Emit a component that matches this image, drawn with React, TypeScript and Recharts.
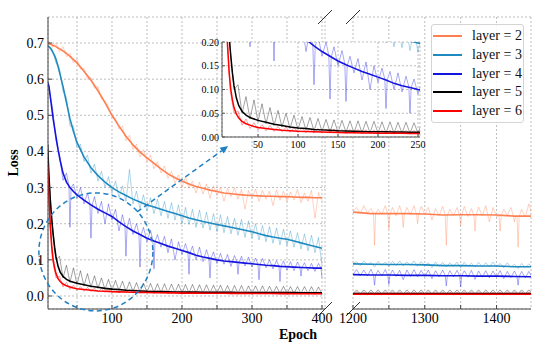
import React from 'react';
import { LineChart, Line, XAxis, YAxis, CartesianGrid, ReferenceDot, ReferenceLine } from 'recharts';

// ---- data ----
const layerNames = ['layer = 2', 'layer = 3', 'layer = 4', 'layer = 5', 'layer = 6'];
const layerColors = ['#ff7f50', '#1f8ac0', '#1414e0', '#000000', '#ff0000'];

const lossTicks = [0, 0.1, 0.2, 0.3, 0.4, 0.5, 0.6, 0.7];
const leftTicks = [50, 100, 150, 200, 250, 300, 350, 400];
const rightTicks = [1200, 1250, 1300, 1350, 1400];
const insetXTicks = [50, 100, 150, 200, 250];
const insetYTicks = [0, 0.05, 0.1, 0.15, 0.2];

// smoothed curves, epochs 8..400
const smoothEpochs = [8, 10, 12, 14, 16, 18, 20, 23, 26, 30, 35, 40, 45, 50, 60, 70, 80, 90, 100, 110, 120, 130, 140, 150, 160, 170, 180, 190, 200, 210, 220, 230, 240, 250, 260, 270, 280, 290, 300, 310, 320, 330, 340, 350, 360, 370, 380, 390, 400];
const smooth2 = [0.700, 0.698, 0.697, 0.695, 0.693, 0.692, 0.690, 0.686, 0.683, 0.678, 0.671, 0.663, 0.654, 0.645, 0.622, 0.597, 0.568, 0.535, 0.500, 0.470, 0.442, 0.418, 0.398, 0.382, 0.367, 0.352, 0.338, 0.327, 0.318, 0.310, 0.303, 0.298, 0.293, 0.289, 0.285, 0.283, 0.281, 0.279, 0.278, 0.277, 0.276, 0.276, 0.275, 0.275, 0.274, 0.273, 0.273, 0.272, 0.272];
const smooth3 = [0.692, 0.690, 0.686, 0.680, 0.673, 0.665, 0.655, 0.635, 0.612, 0.580, 0.535, 0.490, 0.455, 0.425, 0.385, 0.355, 0.333, 0.315, 0.300, 0.288, 0.278, 0.268, 0.260, 0.252, 0.246, 0.240, 0.234, 0.228, 0.222, 0.216, 0.211, 0.206, 0.202, 0.198, 0.194, 0.190, 0.186, 0.182, 0.178, 0.172, 0.167, 0.163, 0.160, 0.157, 0.152, 0.147, 0.142, 0.137, 0.132];
const smooth4 = [0.592, 0.580, 0.550, 0.520, 0.490, 0.465, 0.440, 0.405, 0.375, 0.340, 0.315, 0.300, 0.289, 0.280, 0.265, 0.252, 0.240, 0.230, 0.220, 0.205, 0.192, 0.180, 0.170, 0.160, 0.152, 0.145, 0.138, 0.132, 0.126, 0.120, 0.113, 0.108, 0.104, 0.100, 0.097, 0.095, 0.093, 0.091, 0.089, 0.087, 0.085, 0.084, 0.082, 0.081, 0.080, 0.079, 0.078, 0.077, 0.077];
const smooth5 = [0.420, 0.330, 0.260, 0.210, 0.170, 0.135, 0.108, 0.082, 0.066, 0.054, 0.046, 0.041, 0.038, 0.035, 0.031, 0.027, 0.024, 0.021, 0.019, 0.018, 0.016, 0.015, 0.014, 0.013, 0.0125, 0.012, 0.0115, 0.011, 0.011, 0.0108, 0.0106, 0.0104, 0.0102, 0.010, 0.0100, 0.0099, 0.0098, 0.0097, 0.0096, 0.0095, 0.0094, 0.0093, 0.0093, 0.0092, 0.0092, 0.0091, 0.0091, 0.0090, 0.0090];
const smooth6 = [0.360, 0.270, 0.190, 0.135, 0.100, 0.078, 0.062, 0.048, 0.040, 0.033, 0.028, 0.025, 0.022, 0.020, 0.018, 0.016, 0.014, 0.013, 0.012, 0.0115, 0.011, 0.0105, 0.010, 0.0095, 0.009, 0.009, 0.0085, 0.0085, 0.008, 0.0079, 0.0078, 0.0077, 0.0076, 0.0075, 0.0074, 0.0073, 0.0072, 0.0071, 0.0070, 0.0069, 0.0068, 0.0067, 0.0066, 0.0065, 0.0064, 0.0063, 0.0062, 0.0061, 0.0060];

// raw (noisy) curves, every 5 epochs 5..400
const rawEpochs = [5, 10, 15, 20, 25, 30, 35, 40, 45, 50, 55, 60, 65, 70, 75, 80, 85, 90, 95, 100, 105, 110, 115, 120, 125, 130, 135, 140, 145, 150, 155, 160, 165, 170, 175, 180, 185, 190, 195, 200, 205, 210, 215, 220, 225, 230, 235, 240, 245, 250, 255, 260, 265, 270, 275, 280, 285, 290, 295, 300, 305, 310, 315, 320, 325, 330, 335, 340, 345, 350, 355, 360, 365, 370, 375, 380, 385, 390, 395, 400];
const raw2 = [0.700, 0.705, 0.688, 0.700, 0.676, 0.690, 0.662, 0.672, 0.645, 0.655, 0.628, 0.630, 0.600, 0.605, 0.575, 0.580, 0.545, 0.540, 0.525, 0.495, 0.492, 0.462, 0.470, 0.430, 0.445, 0.405, 0.420, 0.385, 0.405, 0.372, 0.390, 0.352, 0.372, 0.340, 0.360, 0.325, 0.345, 0.312, 0.335, 0.300, 0.330, 0.298, 0.318, 0.285, 0.315, 0.282, 0.310, 0.270, 0.305, 0.278, 0.300, 0.262, 0.298, 0.275, 0.300, 0.268, 0.295, 0.240, 0.292, 0.270, 0.296, 0.262, 0.292, 0.268, 0.290, 0.250, 0.293, 0.265, 0.290, 0.262, 0.288, 0.266, 0.295, 0.258, 0.285, 0.262, 0.292, 0.215, 0.286, 0.262];
const raw3 = [0.692, 0.688, 0.680, 0.645, 0.630, 0.565, 0.550, 0.470, 0.470, 0.410, 0.420, 0.372, 0.390, 0.340, 0.365, 0.318, 0.345, 0.300, 0.330, 0.285, 0.318, 0.272, 0.305, 0.262, 0.350, 0.255, 0.290, 0.242, 0.280, 0.235, 0.272, 0.228, 0.268, 0.222, 0.262, 0.215, 0.258, 0.210, 0.252, 0.200, 0.245, 0.198, 0.240, 0.190, 0.238, 0.188, 0.232, 0.182, 0.228, 0.178, 0.225, 0.175, 0.220, 0.172, 0.215, 0.168, 0.212, 0.162, 0.208, 0.160, 0.200, 0.155, 0.195, 0.150, 0.192, 0.146, 0.188, 0.142, 0.185, 0.140, 0.180, 0.135, 0.175, 0.130, 0.172, 0.125, 0.168, 0.120, 0.162, 0.085];
// layer 4 has thin downward spikes, so it gets its own epochs
const rawEpochs4 = [5, 10, 15, 20, 25, 30, 35, 38.5, 40, 41.5, 45, 50, 55, 60, 65, 68.5, 70, 71.5, 75, 80, 85, 90, 95, 100, 105, 110, 115, 118.5, 120, 121.5, 125, 130, 135, 138.5, 140, 141.5, 145, 150, 155, 158.5, 160, 161.5, 165, 170, 175, 180, 185, 190, 195, 200, 205, 208.5, 210, 211.5, 215, 220, 225, 230, 235, 238.5, 240, 241.5, 245, 250, 255, 260, 265, 270, 275, 278.5, 280, 281.5, 285, 290, 295, 300, 305, 308.5, 310, 311.5, 315, 320, 325, 330, 335, 338.5, 340, 341.5, 345, 350, 355, 360, 365, 368.5, 370, 371.5, 375, 380, 385, 390, 395, 398.5, 400];
const raw4 = [0.600, 0.575, 0.520, 0.430, 0.390, 0.320, 0.340, 0.305, 0.190, 0.300, 0.310, 0.270, 0.300, 0.255, 0.285, 0.255, 0.160, 0.250, 0.275, 0.228, 0.262, 0.200, 0.255, 0.210, 0.240, 0.180, 0.225, 0.195, 0.110, 0.190, 0.215, 0.170, 0.200, 0.172, 0.080, 0.168, 0.190, 0.150, 0.182, 0.154, 0.075, 0.150, 0.170, 0.135, 0.165, 0.120, 0.158, 0.100, 0.150, 0.115, 0.145, 0.122, 0.060, 0.120, 0.138, 0.100, 0.135, 0.095, 0.128, 0.106, 0.050, 0.104, 0.122, 0.090, 0.118, 0.088, 0.115, 0.082, 0.112, 0.094, 0.060, 0.093, 0.110, 0.083, 0.108, 0.080, 0.105, 0.088, 0.045, 0.087, 0.104, 0.078, 0.100, 0.075, 0.098, 0.083, 0.040, 0.082, 0.097, 0.072, 0.095, 0.070, 0.094, 0.080, 0.055, 0.080, 0.092, 0.070, 0.090, 0.068, 0.090, 0.078, 0.050];
const raw5 = [0.500, 0.330, 0.190, 0.100, 0.110, 0.050, 0.085, 0.038, 0.078, 0.032, 0.070, 0.028, 0.062, 0.024, 0.056, 0.021, 0.050, 0.018, 0.046, 0.016, 0.043, 0.015, 0.041, 0.013, 0.039, 0.012, 0.037, 0.011, 0.036, 0.010, 0.035, 0.010, 0.034, 0.009, 0.034, 0.009, 0.033, 0.009, 0.033, 0.008, 0.032, 0.008, 0.032, 0.008, 0.031, 0.008, 0.031, 0.008, 0.030, 0.008, 0.030, 0.007, 0.029, 0.007, 0.029, 0.007, 0.029, 0.007, 0.028, 0.007, 0.028, 0.007, 0.028, 0.007, 0.027, 0.007, 0.027, 0.007, 0.027, 0.007, 0.026, 0.007, 0.026, 0.007, 0.026, 0.006, 0.026, 0.006, 0.025, 0.006];
const raw6 = [0.420, 0.260, 0.100, 0.050, 0.055, 0.025, 0.038, 0.018, 0.030, 0.015, 0.026, 0.013, 0.024, 0.012, 0.022, 0.011, 0.021, 0.010, 0.020, 0.009, 0.019, 0.009, 0.018, 0.008, 0.018, 0.008, 0.017, 0.008, 0.017, 0.008, 0.016, 0.007, 0.016, 0.007, 0.016, 0.007, 0.015, 0.007, 0.015, 0.007, 0.015, 0.006, 0.015, 0.006, 0.014, 0.006, 0.014, 0.006, 0.014, 0.006, 0.014, 0.006, 0.014, 0.005, 0.013, 0.005, 0.013, 0.005, 0.013, 0.005, 0.013, 0.005, 0.013, 0.005, 0.012, 0.005, 0.012, 0.005, 0.012, 0.005, 0.012, 0.005, 0.012, 0.005, 0.012, 0.004, 0.012, 0.004, 0.011, 0.004];

// right panel, epochs 1200..1450
const rightSmoothEpochs = [1200, 1225, 1250, 1275, 1300, 1325, 1350, 1375, 1400, 1425, 1450];
const rightSmooth2 = [0.232, 0.228, 0.228, 0.228, 0.227, 0.224, 0.225, 0.225, 0.224, 0.221, 0.221];
const rightSmooth3 = [0.089, 0.088, 0.087, 0.087, 0.086, 0.084, 0.084, 0.083, 0.083, 0.081, 0.081];
const rightSmooth4 = [0.059, 0.058, 0.058, 0.057, 0.057, 0.056, 0.056, 0.055, 0.055, 0.054, 0.053];
const rightSmooth5 = [0.007, 0.007, 0.007, 0.007, 0.007, 0.007, 0.007, 0.007, 0.007, 0.007, 0.007];
const rightSmooth6 = [0.005, 0.005, 0.005, 0.005, 0.005, 0.005, 0.005, 0.005, 0.005, 0.005, 0.005];

const rightRawEpochs = [1200, 1205, 1210, 1215, 1220, 1225, 1230, 1235, 1240, 1245, 1250, 1255, 1260, 1265, 1270, 1275, 1280, 1285, 1290, 1295, 1300, 1305, 1310, 1315, 1320, 1325, 1330, 1335, 1340, 1345, 1350, 1355, 1360, 1365, 1370, 1375, 1380, 1385, 1390, 1395, 1400, 1405, 1410, 1415, 1420, 1425, 1430, 1435, 1440, 1445, 1450];
const rightRawEpochs2 = [1200, 1205, 1210, 1215, 1220, 1225, 1228.5, 1230, 1231.5, 1235, 1240, 1245, 1248.5, 1250, 1251.5, 1255, 1260, 1265, 1268.5, 1270, 1271.5, 1275, 1280, 1285, 1288.5, 1290, 1291.5, 1295, 1300, 1305, 1310, 1315, 1320, 1325, 1328.5, 1330, 1331.5, 1335, 1340, 1345, 1348.5, 1350, 1351.5, 1355, 1360, 1365, 1368.5, 1370, 1371.5, 1375, 1380, 1385, 1390, 1395, 1400, 1403.5, 1405, 1406.5, 1410, 1415, 1420, 1423.5, 1425, 1426.5, 1428.5, 1430, 1431.5, 1435, 1440, 1445, 1450];
const rightRaw2 = [0.235, 0.245, 0.228, 0.250, 0.230, 0.242, 0.230, 0.140, 0.228, 0.240, 0.225, 0.250, 0.226, 0.185, 0.226, 0.245, 0.222, 0.250, 0.226, 0.190, 0.226, 0.245, 0.225, 0.250, 0.226, 0.200, 0.226, 0.248, 0.225, 0.245, 0.210, 0.242, 0.222, 0.248, 0.224, 0.140, 0.224, 0.240, 0.222, 0.245, 0.223, 0.195, 0.223, 0.248, 0.220, 0.242, 0.223, 0.180, 0.223, 0.246, 0.222, 0.250, 0.205, 0.245, 0.220, 0.221, 0.180, 0.221, 0.240, 0.222, 0.245, 0.220, 0.205, 0.220, 0.220, 0.135, 0.220, 0.240, 0.218, 0.255, 0.220];
const rightRaw3 = [0.090, 0.095, 0.084, 0.097, 0.086, 0.093, 0.080, 0.096, 0.085, 0.094, 0.082, 0.096, 0.084, 0.097, 0.083, 0.094, 0.085, 0.097, 0.082, 0.095, 0.084, 0.092, 0.078, 0.094, 0.082, 0.093, 0.080, 0.092, 0.082, 0.094, 0.078, 0.093, 0.082, 0.091, 0.080, 0.093, 0.081, 0.092, 0.080, 0.094, 0.081, 0.090, 0.078, 0.092, 0.080, 0.088, 0.076, 0.090, 0.079, 0.089, 0.080];
const rightRawEpochs4 = [1200, 1205, 1210, 1215, 1220, 1225, 1228.5, 1230, 1231.5, 1235, 1240, 1245, 1248.5, 1250, 1251.5, 1255, 1260, 1265, 1270, 1275, 1280, 1285, 1290, 1295, 1300, 1305, 1310, 1315, 1320, 1325, 1328.5, 1330, 1331.5, 1335, 1340, 1345, 1348.5, 1350, 1351.5, 1355, 1360, 1365, 1370, 1375, 1380, 1385, 1390, 1395, 1400, 1405, 1410, 1415, 1420, 1425, 1428.5, 1430, 1431.5, 1435, 1440, 1445, 1450];
const rightRaw4 = [0.060, 0.073, 0.056, 0.072, 0.055, 0.074, 0.058, 0.030, 0.058, 0.071, 0.055, 0.073, 0.057, 0.032, 0.057, 0.072, 0.054, 0.071, 0.045, 0.072, 0.054, 0.073, 0.053, 0.071, 0.054, 0.072, 0.048, 0.070, 0.053, 0.072, 0.056, 0.028, 0.056, 0.070, 0.053, 0.071, 0.056, 0.025, 0.056, 0.070, 0.052, 0.071, 0.046, 0.069, 0.052, 0.070, 0.050, 0.069, 0.052, 0.070, 0.048, 0.068, 0.051, 0.069, 0.054, 0.030, 0.054, 0.068, 0.050, 0.068, 0.050];
const rightRaw5 = [0.006, 0.017, 0.006, 0.017, 0.006, 0.017, 0.006, 0.017, 0.006, 0.017, 0.006, 0.017, 0.006, 0.017, 0.006, 0.017, 0.006, 0.017, 0.006, 0.017, 0.006, 0.017, 0.006, 0.017, 0.006, 0.017, 0.006, 0.017, 0.006, 0.017, 0.006, 0.017, 0.006, 0.017, 0.006, 0.017, 0.006, 0.017, 0.006, 0.017, 0.006, 0.017, 0.006, 0.017, 0.006, 0.017, 0.006, 0.017, 0.006, 0.017, 0.006];
const rightRaw6 = [0.003, 0.011, 0.003, 0.011, 0.003, 0.011, 0.003, 0.011, 0.003, 0.011, 0.003, 0.011, 0.003, 0.011, 0.003, 0.011, 0.003, 0.011, 0.003, 0.011, 0.003, 0.011, 0.003, 0.011, 0.003, 0.011, 0.003, 0.011, 0.003, 0.011, 0.003, 0.011, 0.003, 0.011, 0.003, 0.011, 0.003, 0.011, 0.003, 0.011, 0.003, 0.011, 0.003, 0.011, 0.003, 0.011, 0.003, 0.011, 0.003, 0.011, 0.003];

const leftRaw: [number[], number[]][] = [[rawEpochs, raw2], [rawEpochs, raw3], [rawEpochs4, raw4], [rawEpochs, raw5], [rawEpochs, raw6]];
const leftSmooth = [smooth2, smooth3, smooth4, smooth5, smooth6];
const rightRaw: [number[], number[]][] = [[rightRawEpochs2, rightRaw2], [rightRawEpochs, rightRaw3], [rightRawEpochs4, rightRaw4], [rightRawEpochs, rightRaw5], [rightRawEpochs, rightRaw6]];
const rightSmooth = [rightSmooth2, rightSmooth3, rightSmooth4, rightSmooth5, rightSmooth6];

// ---- styling ----
const SERIF = '"Liberation Serif", "Times New Roman", serif';
const GRID = '#bdbdbd';
const SPINE = '#444';
const ANNOT = '#1f7fc4';
const lossDomain = [-0.036, 0.772];
const leftDomain = [8.6, 404.3];
const rightDomain = [1200, 1448];

const rows = (xs: number[], ys: number[]) => xs.map((epoch, i) => ({ epoch, loss: ys[i] }));

const seriesLines = (raws: [number[], number[]][], smoothX: number[], smooths: number[][], key: string, w: number) => [
  ...raws.map(([xs, ys], i) => (
    <Line key={`${key}-raw-${i}`} data={rows(xs, ys)} dataKey="loss" type="linear" stroke={layerColors[i]}
      strokeOpacity={0.36} strokeWidth={1} dot={false} activeDot={false} isAnimationActive={false} />
  )),
  ...smooths.map((s, i) => (
    <Line key={`${key}-smooth-${i}`} data={rows(smoothX, s)} dataKey="loss" type="linear" stroke={layerColors[i]}
      strokeWidth={w} dot={false} activeDot={false} isAnimationActive={false} />
  )),
];

const tickFont = { fill: '#000', fontSize: 14, fontFamily: SERIF };
const hundreds = (v: number) => (v % 100 === 0 ? String(v) : '');

const ellipse = (p: any) => (
  <ellipse cx={p.cx} cy={p.cy} rx={57} ry={59} fill="none" stroke={ANNOT} strokeWidth={1.5} strokeDasharray="5 3.5" />
);

const arrow = (p: any) => {
  const { x1, y1, x2, y2 } = p;
  const a = Math.atan2(y2 - y1, x2 - x1);
  const bx = x2 - 8 * Math.cos(a);
  const by = y2 - 8 * Math.sin(a);
  const s = 3.5;
  return (
    <g>
      <line x1={x1} y1={y1} x2={bx} y2={by} stroke={ANNOT} strokeWidth={1.5} strokeDasharray="5 3.5" />
      <polygon points={`${x2},${y2} ${bx - s * Math.sin(a)},${by + s * Math.cos(a)} ${bx + s * Math.sin(a)},${by - s * Math.cos(a)}`} fill={ANNOT} />
    </g>
  );
};

const breakMark = (p: any) => (
  <line x1={p.cx - 7} y1={p.cy + 7} x2={p.cx + 7} y2={p.cy - 7} stroke="#333" strokeWidth={1} />
);

const App = () => {
  return (
    <div style={{ position: 'absolute', left: 0, top: 0, width: 550, height: 348, background: '#fff', fontFamily: SERIF }}>
      <style>{`svg text { font-family: "Liberation Serif", "Times New Roman", serif; }`}</style>
      {/* left panel: epochs up to 400 */}
      <div style={{ position: 'absolute', left: 0, top: 0 }}>
        <LineChart width={550} height={348} margin={{ top: 17, right: 225, bottom: 9, left: 8 }}>
          <CartesianGrid stroke={GRID} strokeDasharray="2 2" />
          <XAxis type="number" dataKey="epoch" domain={leftDomain} allowDataOverflow ticks={leftTicks} interval={0}
            tickFormatter={hundreds} height={30} tickSize={-4} tickMargin={8} stroke={SPINE} tick={tickFont} />
          <XAxis xAxisId="top" orientation="top" type="number" domain={leftDomain} allowDataOverflow height={0}
            tick={false} tickLine={false} stroke={SPINE} />
          <YAxis type="number" domain={lossDomain} allowDataOverflow ticks={lossTicks} interval={0}
            tickFormatter={(v: number) => v.toFixed(1)} width={40} tickSize={-4} tickMargin={8} stroke={SPINE} tick={tickFont} />
          {seriesLines(leftRaw, smoothEpochs, leftSmooth, 'l', 1.6)}
          <ReferenceDot x={77} y={0.122} ifOverflow="visible" shape={ellipse} />
          <ReferenceLine segment={[{ x: 136, y: 0.233 }, { x: 266, y: 0.415 }]} ifOverflow="visible" shape={arrow} />
          <ReferenceDot x={leftDomain[1]} y={lossDomain[1]} ifOverflow="visible" shape={breakMark} />
          <ReferenceDot x={leftDomain[1]} y={lossDomain[0]} ifOverflow="visible" shape={breakMark} />
        </LineChart>
      </div>

      {/* right panel: epochs 1200..1450 */}
      <div style={{ position: 'absolute', left: 0, top: 0 }}>
        <LineChart width={550} height={348} margin={{ top: 17, right: 19, bottom: 9, left: 353 }}>
          <CartesianGrid stroke={GRID} strokeDasharray="2 2" />
          <XAxis type="number" dataKey="epoch" domain={rightDomain} allowDataOverflow ticks={rightTicks} interval={0}
            tickFormatter={hundreds} height={30} tickSize={-4} tickMargin={8} stroke={SPINE} tick={tickFont} />
          <XAxis xAxisId="top" orientation="top" type="number" domain={rightDomain} allowDataOverflow height={0}
            tick={false} tickLine={false} stroke={SPINE} />
          <YAxis type="number" domain={lossDomain} allowDataOverflow ticks={lossTicks} width={0}
            tick={false} tickLine={false} axisLine={false} />
          <YAxis yAxisId="right" orientation="right" type="number" domain={lossDomain} allowDataOverflow width={0}
            tick={false} tickLine={false} stroke={SPINE} />
          {seriesLines(rightRaw, rightSmoothEpochs, rightSmooth, 'r', 1.6)}
          <ReferenceDot x={rightDomain[0]} y={lossDomain[1]} ifOverflow="visible" shape={breakMark} />
          <ReferenceDot x={rightDomain[0]} y={lossDomain[0]} ifOverflow="visible" shape={breakMark} />
        </LineChart>
      </div>

      {/* zoomed inset */}
      <div style={{ position: 'absolute', left: 180, top: 35 }}>
        <LineChart width={250} height={125} margin={{ top: 7, right: 10, bottom: 3, left: 4 }}>
          <CartesianGrid stroke={GRID} strokeDasharray="2 2" fill="#fff" fillOpacity={1} />
          <XAxis type="number" dataKey="epoch" domain={[5, 252.5]} allowDataOverflow ticks={insetXTicks} interval={0}
            height={20} tickSize={-3} tickMargin={7} stroke="#555" tick={{ ...tickFont, fontSize: 10 }} />
          <XAxis xAxisId="top" orientation="top" type="number" domain={[5, 252.5]} allowDataOverflow height={0}
            tick={false} tickLine={false} stroke="#555" />
          <YAxis type="number" domain={[0, 0.2]} allowDataOverflow ticks={insetYTicks} interval={0}
            tickFormatter={(v: number) => v.toFixed(2)} width={38} tickSize={-3} tickMargin={6} stroke="#555"
            tick={{ ...tickFont, fontSize: 10 }} />
          <YAxis yAxisId="right" orientation="right" type="number" domain={[0, 0.2]} allowDataOverflow width={0}
            tick={false} tickLine={false} stroke="#555" />
          {seriesLines(leftRaw, smoothEpochs, leftSmooth, 'i', 1.5)}
        </LineChart>
      </div>

      {/* legend */}
      <div style={{ position: 'absolute', left: 431, top: 24, width: 93, height: 99, boxSizing: 'border-box',
        border: '1px solid #d4d4d4', borderRadius: 3, background: 'rgba(255,255,255,0.85)' }}>
        {layerNames.map((name, i) => (
          <div key={name} style={{ position: 'absolute', left: 0, top: 11 + i * 18.8 - 9, height: 18, width: 92 }}>
            <div style={{ position: 'absolute', left: 1, top: 8, width: 29, height: 2, background: layerColors[i] }} />
            <div style={{ position: 'absolute', left: 40, top: 0, fontSize: 14, lineHeight: '18px', color: '#111', whiteSpace: 'nowrap' }}>{name}</div>
          </div>
        ))}
      </div>

      {/* axis titles */}
      <div style={{ position: 'absolute', left: 298, top: 326, transform: 'translateX(-50%)', fontSize: 14, fontWeight: 'bold', lineHeight: '18px' }}>Epoch</div>
      <div style={{ position: 'absolute', left: 14, top: 163, transform: 'translate(-50%, -50%) rotate(-90deg)', fontSize: 14, fontWeight: 'bold', lineHeight: '18px' }}>Loss</div>
    </div>
  );
};

export default App;
